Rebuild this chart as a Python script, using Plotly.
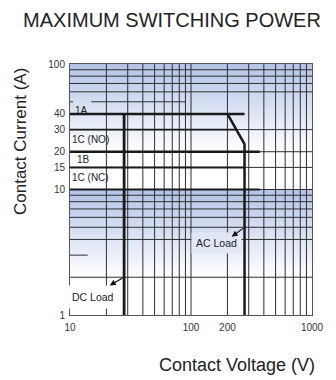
import math
import plotly.graph_objects as go

FONT = "Arial, Liberation Sans, sans-serif"

# axis ticks
volt_ticks = [10, 100, 200, 1000]
amp_ticks = [1, 10, 15, 20, 30, 40, 100]

# grid positions
volt_grid = [20, 30, 40, 50, 60, 70, 80, 90, 100, 200, 300, 400, 500, 600, 700, 800, 900]
grid_amps = [2, 4, 5, 6, 7, 8, 9, 10, 15, 20, 30, 60, 70, 80, 90]
partial_amps = [50, 50, 3]
partial_from = [10, 15, 10]
partial_to = [10.6, 90, 14]

# contact ratings: current and where the heavy line stops
rating_labels = ["1A", "1C (NO)", "1B", "1C (NC)"]
rating_amps = [40, 30, 20, 15, 10]
rating_end_volts = [277, 240, 370, 277, 370]
rating_widths = [2.5, 1.8, 2.5, 2, 2]

# load limit curves
ac_volts = [200, 277, 277]
ac_amps = [40, 23, 1]
dc_volts = [28, 28]
dc_amps = [40, 1]

# shaded bands (amps)
bands = [(20, 100), (2, 10)]

TOP = (179, 195, 231)
N_STEPS = 40

fig = go.Figure()


def shade(t):
    c = [round(255 + (b - 255) * t) for b in TOP]
    return f"rgb({c[0]},{c[1]},{c[2]})"


# vertical gradient: stacked rectangles from the band floor, darkest first
for lo, hi in bands:
    l0, l1 = math.log10(lo), math.log10(hi)
    for i in range(N_STEPS, 0, -1):
        top = 10 ** (l0 + (l1 - l0) * i / N_STEPS)
        fig.add_trace(go.Scatter(
            x=[10, 1000, 1000, 10, 10], y=[lo, lo, top, top, lo],
            mode="lines", line=dict(width=0), fill="toself",
            fillcolor=shade((i - 0.5) / N_STEPS),
            hoverinfo="skip", showlegend=False,
        ))

gx, gy = [], []
for v in volt_grid:
    gx += [v, v, None]
    gy += [1, 100, None]
for a in grid_amps:
    gx += [10, 1000, None]
    gy += [a, a, None]
for a, v0, v1 in zip(partial_amps, partial_from, partial_to):
    gx += [v0, v1, None]
    gy += [a, a, None]
fig.add_trace(go.Scatter(x=gx, y=gy, mode="lines",
                         line=dict(color="#2e2e2e", width=1),
                         hoverinfo="skip", showlegend=False))

for a, v, w in zip(rating_amps, rating_end_volts, rating_widths):
    fig.add_trace(go.Scatter(x=[10, v], y=[a, a], mode="lines",
                             line=dict(color="#1a1a1a", width=w),
                             hoverinfo="skip", showlegend=False))

fig.add_trace(go.Scatter(x=ac_volts, y=ac_amps, mode="lines",
                         line=dict(color="#1a1a1a", width=2.5),
                         hoverinfo="skip", showlegend=False))
fig.add_trace(go.Scatter(x=dc_volts, y=dc_amps, mode="lines",
                         line=dict(color="#1a1a1a", width=2.8),
                         hoverinfo="skip", showlegend=False))

# contact labels, left aligned near the y axis
label_y = [43.0, 25.1, 17.2, 12.5]
label_shift = [3, 0, 5, 0]
for txt, y, s in zip(rating_labels, label_y, label_shift):
    fig.add_annotation(x=0, xref="paper", y=math.log10(y), yref="y",
                       text=txt, showarrow=False, xanchor="left", xshift=s,
                       font=dict(family=FONT, size=10, color="#222"))

# load labels with arrows
fig.add_annotation(x=math.log10(15.6), y=math.log10(1.39), text="DC Load",
                   showarrow=False, bgcolor="#ffffff", borderpad=5,
                   font=dict(family=FONT, size=10.5, color="#222"))
fig.add_annotation(x=math.log10(21.3), y=math.log10(1.72),
                   ax=math.log10(28), ay=math.log10(2), axref="x", ayref="y",
                   text="", showarrow=True, arrowhead=2, arrowsize=1,
                   arrowwidth=1.2, arrowcolor="#111")
fig.add_annotation(x=math.log10(162), y=math.log10(3.78), text="AC Load",
                   showarrow=False, bgcolor="#e1e7f6", borderpad=4,
                   font=dict(family=FONT, size=10.5, color="#222"))
fig.add_annotation(x=math.log10(217), y=math.log10(4.2),
                   ax=math.log10(277), ay=math.log10(5), axref="x", ayref="y",
                   text="", showarrow=True, arrowhead=2, arrowsize=1,
                   arrowwidth=1.2, arrowcolor="#111")

# axis titles
fig.add_annotation(x=(240 - 70) / 247, xref="paper", y=(315 - 365) / 251, yref="paper",
                   text="Contact Voltage (V)", showarrow=False,
                   xanchor="center", yanchor="middle",
                   font=dict(family=FONT, size=18, color="#222"))
fig.add_annotation(x=(19 - 70) / 247, xref="paper", y=(315 - 142) / 251, yref="paper",
                   text="Contact Current (A)", showarrow=False, textangle=-90,
                   xanchor="center", yanchor="middle",
                   font=dict(family=FONT, size=17, color="#222"))

fig.update_xaxes(
    type="log", range=[1, 3], tickvals=volt_ticks, ticktext=[str(v) for v in volt_ticks],
    showgrid=False, showline=True, mirror=True, linecolor="#555", linewidth=1,
    ticks="", ticklabelstandoff=3, zeroline=False,
    tickfont=dict(family=FONT, size=10, color="#333"),
)
fig.update_yaxes(
    type="log", range=[0, 2], tickvals=amp_ticks, ticktext=[str(v) for v in amp_ticks],
    showgrid=False, showline=True, mirror=True, linecolor="#555", linewidth=1,
    ticks="", ticklabelstandoff=2, zeroline=False,
    tickfont=dict(family=FONT, size=10, color="#333"),
)
# page body adds an 8px offset, so the figure is 8px smaller with trimmed margins
fig.update_layout(
    width=328, height=372,
    margin=dict(l=62, r=19, t=56, b=65),
    title=dict(text="MAXIMUM SWITCHING POWER", xref="container", yref="container",
               x=(172 - 8) / 328, y=1 - (20 - 8) / 372,
               xanchor="center", yanchor="middle",
               font=dict(family=FONT, size=20, color="#222")),
    paper_bgcolor="white", plot_bgcolor="white",
    showlegend=False,
)
fig.write_html("out.html")
